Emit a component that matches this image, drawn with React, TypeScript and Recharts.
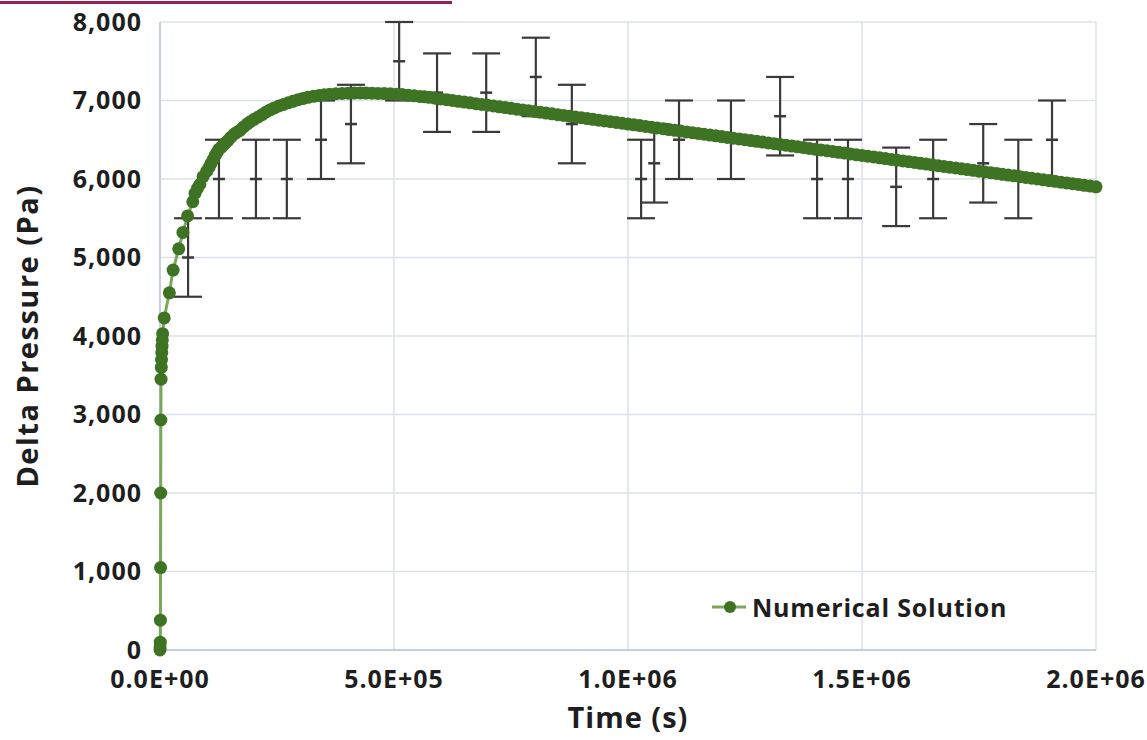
import React from 'react';
import { ScatterChart, Scatter, XAxis, YAxis, CartesianGrid, ErrorBar, Legend } from 'recharts';

// Numerical solution: [time (s), delta pressure (Pa)]
const numericalPoints: [number, number][] = [
  [0, 0], [300, 40], [600, 100], [900, 380], [1200, 1050], [1500, 2000], [1800, 2930],
  [2200, 3450], [2800, 3600], [3300, 3700], [3800, 3790], [4300, 3870], [4900, 3950],
  [5600, 4030], [9000, 4230], [20000, 4550], [28000, 4840], [40000, 5110], [49000, 5320],
  [59000, 5530], [70000, 5710], [75000, 5820], [80000, 5880], [85000, 5930], [92000, 6030],
  [100000, 6100], [105000, 6150], [109000, 6200], [114000, 6250], [118000, 6300],
  [122000, 6340], [126000, 6380], [131000, 6405], [135000, 6430], [140000, 6460],
  [145000, 6490], [151000, 6530], [158000, 6570], [164000, 6595], [171000, 6620],
  [178000, 6660], [186000, 6700], [193000, 6730], [201000, 6760], [210000, 6790],
  [218000, 6820], [226000, 6850], [235000, 6880], [244000, 6905], [254000, 6930],
  [264000, 6950], [274000, 6970], [284000, 6990], [295000, 7010], [305000, 7025],
  [316000, 7040], [328000, 7053], [340000, 7065], [351000, 7073], [363000, 7080],
  [376000, 7086], [389000, 7090], [402000, 7093], [415000, 7095], [428000, 7096],
  [440000, 7095], [453000, 7093], [466000, 7090], [479000, 7088], [492000, 7085],
  [505000, 7080], [517000, 7075], [530000, 7068], [543000, 7060], [555000, 7052],
  [565000, 7047],
  [575e3, 7040], [587.5e3, 7030], [600e3, 7020], [612.5e3, 7010], [625e3, 7000],
  [637.5e3, 6990], [650e3, 6980], [662.5e3, 6970], [675e3, 6960], [687.5e3, 6950],
  [700e3, 6940], [712.5e3, 6930], [725e3, 6920], [737.5e3, 6910], [750e3, 6900],
  [762.5e3, 6890], [775e3, 6880], [787.5e3, 6870], [800e3, 6860], [812.5e3, 6850],
  [825e3, 6840], [837.5e3, 6830], [850e3, 6820], [862.5e3, 6810], [875e3, 6800],
  [887.5e3, 6790], [900e3, 6780], [912.5e3, 6770], [925e3, 6760], [937.5e3, 6750],
  [950e3, 6740], [962.5e3, 6730], [975e3, 6720], [987.5e3, 6710], [1000e3, 6700],
  [1012.5e3, 6690], [1025e3, 6680], [1037.5e3, 6670], [1050e3, 6660], [1062.5e3, 6650],
  [1075e3, 6640], [1087.5e3, 6630], [1100e3, 6620], [1112.5e3, 6610], [1125e3, 6600],
  [1137.5e3, 6590], [1150e3, 6580], [1162.5e3, 6570], [1175e3, 6560], [1187.5e3, 6550],
  [1200e3, 6540], [1212.5e3, 6530], [1225e3, 6520], [1237.5e3, 6510], [1250e3, 6500],
  [1262.5e3, 6490], [1275e3, 6480], [1287.5e3, 6470], [1300e3, 6460], [1312.5e3, 6450],
  [1325e3, 6440], [1337.5e3, 6430], [1350e3, 6420], [1362.5e3, 6410], [1375e3, 6400],
  [1387.5e3, 6390], [1400e3, 6380], [1412.5e3, 6370], [1425e3, 6360], [1437.5e3, 6350],
  [1450e3, 6340], [1462.5e3, 6330], [1475e3, 6320], [1487.5e3, 6310], [1500e3, 6300],
  [1512.5e3, 6290], [1525e3, 6280], [1537.5e3, 6270], [1550e3, 6260], [1562.5e3, 6250],
  [1575e3, 6240], [1587.5e3, 6230], [1600e3, 6220], [1612.5e3, 6210], [1625e3, 6200],
  [1637.5e3, 6190], [1650e3, 6180], [1662.5e3, 6170], [1675e3, 6160], [1687.5e3, 6150],
  [1700e3, 6140], [1712.5e3, 6130], [1725e3, 6120], [1737.5e3, 6110], [1750e3, 6100],
  [1762.5e3, 6090], [1775e3, 6080], [1787.5e3, 6070], [1800e3, 6060], [1812.5e3, 6050],
  [1825e3, 6040], [1837.5e3, 6030], [1850e3, 6020], [1862.5e3, 6010], [1875e3, 6000],
  [1887.5e3, 5990], [1900e3, 5980], [1912.5e3, 5970], [1925e3, 5960], [1937.5e3, 5950],
  [1950e3, 5940], [1962.5e3, 5930], [1975e3, 5920], [1987.5e3, 5910], [2000e3, 5900],
];

// Measured values with error bars
const obsTime = [
  60000, 126000, 205000, 271000, 344000, 408000, 511000, 592000, 697000, 803000, 880000,
  1028000, 1056000, 1109000, 1220000, 1325000, 1404000, 1470000, 1573000, 1652000,
  1759000, 1834000, 1906000,
];
const obsMean = [
  5000, 6000, 6000, 6000, 6500, 6700, 7500, 7100, 7100, 7300, 6700,
  6000, 6200, 6500, 6500, 6800, 6000, 6000, 5900, 6000,
  6200, 6000, 6500,
];
const obsError = obsTime.map(() => 500);

const xTicks = [0, 5e5, 1e6, 1.5e6, 2e6];
const yTicks = [0, 1000, 2000, 3000, 4000, 5000, 6000, 7000, 8000];

const simData = numericalPoints.map(([t, p]) => ({ t, p }));
const obsData = obsTime.map((t, i) => ({ t, p: obsMean[i], err: obsError[i] }));

const FONT = "'Open Sans', sans-serif";
const DOT = '#3e7324';
const LINE = '#79a75b';

const sci = (v: number) => {
  const [m, e] = v.toExponential(1).split('e');
  const sign = e[0] === '-' ? '-' : '+';
  return `${m}E${sign}${e.replace(/[+-]/, '').padStart(2, '0')}`;
};

const SimDot = (props: any) => <circle cx={props.cx} cy={props.cy} r={6.5} fill={DOT} />;

const MeanTick = (props: any) => (
  <line x1={props.cx - 6} x2={props.cx + 6} y1={props.cy} y2={props.cy} stroke="#3a3a3a" strokeWidth={2.5} />
);

const LegendBox = () => (
  <div style={{ display: 'flex', alignItems: 'center' }}>
    <svg width={40} height={20}>
      <line x1={2} x2={36} y1={10} y2={10} stroke={LINE} strokeWidth={3} />
      <circle cx={20} cy={10} r={6} fill={DOT} />
    </svg>
    <span style={{ fontFamily: FONT, fontWeight: 700, fontSize: 25, color: '#1e1e1e', letterSpacing: 0.8, marginLeft: 2 }}>
      Numerical Solution
    </span>
  </div>
);

export default function App() {
  const tickStyle = { fontSize: 25, fontWeight: 700, fill: '#1e1e1e', fontFamily: FONT, letterSpacing: 1 };
  return (
    <div style={{ position: 'absolute', left: 0, top: 0, width: 1147, height: 740, background: '#fff' }}>
      <div style={{ position: 'absolute', left: 0, top: 1, width: 452, height: 2.5, background: '#93244f' }} />
      <ScatterChart width={1147} height={740} margin={{ top: 22, right: 51, bottom: 0, left: 0 }}>
        <CartesianGrid stroke="#dbe2eb" strokeWidth={1.5} />
        <XAxis
          type="number"
          dataKey="t"
          domain={[0, 2e6]}
          ticks={xTicks}
          tickFormatter={sci}
          height={90}
          tickLine={false}
          tickMargin={14}
          axisLine={{ stroke: '#c6d0dd', strokeWidth: 2 }}
          tick={tickStyle}
          label={{
            value: 'Time (s)',
            position: 'insideBottom',
            offset: 12,
            style: { fontSize: 29, fontWeight: 700, fill: '#1e1e1e', fontFamily: FONT, letterSpacing: 1 },
          }}
        />
        <YAxis
          type="number"
          dataKey="p"
          domain={[0, 8000]}
          ticks={yTicks}
          tickFormatter={(v: number) => v.toLocaleString('en-US')}
          width={160}
          tickLine={false}
          tickMargin={12}
          axisLine={{ stroke: '#c6d0dd', strokeWidth: 2 }}
          tick={tickStyle}
          label={{
            value: 'Delta Pressure (Pa)',
            angle: -90,
            position: 'insideLeft',
            offset: 28,
            style: { textAnchor: 'middle', fontSize: 29, fontWeight: 700, fill: '#1e1e1e', fontFamily: FONT, letterSpacing: 1.5 },
          }}
        />
        <Scatter data={obsData} shape={MeanTick} isAnimationActive={false} legendType="none">
          <ErrorBar dataKey="err" direction="y" width={14} stroke="#3a3a3a" strokeWidth={2.2} />
        </Scatter>
        <Scatter
          name="Numerical Solution"
          data={simData}
          shape={SimDot}
          line={{ stroke: LINE, strokeWidth: 3 }}
          isAnimationActive={false}
        />
        <Legend
          layout="horizontal"
          verticalAlign="middle"
          align="center"
          content={LegendBox}
          wrapperStyle={{ left: 710, top: 590, width: 'auto' }}
        />
      </ScatterChart>
    </div>
  );
}
